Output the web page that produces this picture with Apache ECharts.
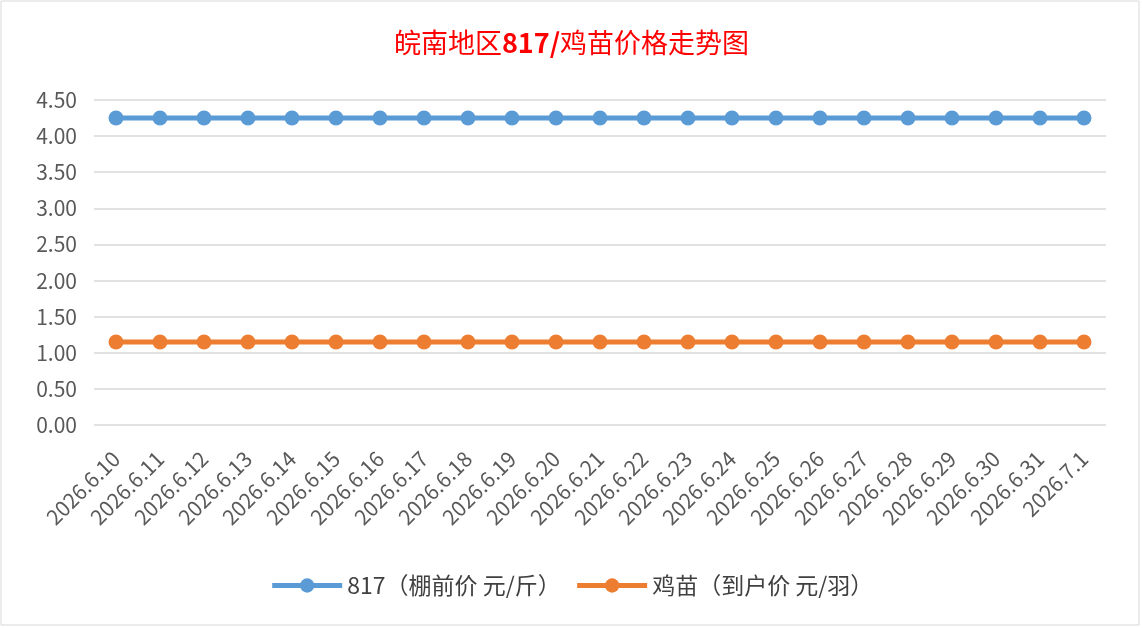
<!doctype html>
<html lang="zh">
<head>
<meta charset="utf-8">
<title>皖南地区817/鸡苗价格走势图</title>
<script src="https://cdn.jsdelivr.net/npm/echarts@6/dist/echarts.min.js"></script>
<style>
html,body{margin:0;padding:0;background:#fff;}
#chart{width:1143px;height:628px;}
</style>
</head>
<body>
<div id="chart"></div>
<script>
var dates = ['2026.6.10','2026.6.11','2026.6.12','2026.6.13','2026.6.14','2026.6.15','2026.6.16',
  '2026.6.17','2026.6.18','2026.6.19','2026.6.20','2026.6.21','2026.6.22','2026.6.23','2026.6.24',
  '2026.6.25','2026.6.26','2026.6.27','2026.6.28','2026.6.29','2026.6.30','2026.6.31','2026.7.1'];
var price817 = [4.25,4.25,4.25,4.25,4.25,4.25,4.25,4.25,4.25,4.25,4.25,4.25,
  4.25,4.25,4.25,4.25,4.25,4.25,4.25,4.25,4.25,4.25,4.25];
var priceChick = [1.15,1.15,1.15,1.15,1.15,1.15,1.15,1.15,1.15,1.15,1.15,1.15,
  1.15,1.15,1.15,1.15,1.15,1.15,1.15,1.15,1.15,1.15,1.15];
var seriesNames = ['817（棚前价 元/斤）','鸡苗（到户价 元/羽）'];

var font = '"Microsoft YaHei","Noto Sans CJK SC",sans-serif';
var myChart = echarts.init(document.getElementById('chart'));

function lineSeries(name, data, color) {
  return {
    name: name,
    type: 'line',
    data: data,
    symbol: 'circle',
    symbolSize: 15,
    lineStyle: {width: 5, color: color},
    itemStyle: {color: color},
    animation: false
  };
}

myChart.setOption({
  backgroundColor: '#fff',
  graphic: [{
    type: 'rect',
    shape: {x: 1, y: 1, width: 1138, height: 624},
    style: {fill: 'none', stroke: '#d9d9d9', lineWidth: 1},
    silent: true
  }],
  title: {
    text: '{n|皖南地区}{b|817/}{n|鸡苗价格走势图}',
    left: 'center',
    top: 24,
    textStyle: {
      rich: {
        n: {color: '#ff0000', fontSize: 27, fontFamily: font, fontWeight: 'normal'},
        b: {color: '#ff0000', fontSize: 27, fontFamily: font, fontWeight: 'bold'}
      }
    }
  },
  grid: {left: 94, right: 37, top: 100, bottom: 203},
  legend: {
    bottom: 26,
    left: 'center',
    itemWidth: 70,
    itemHeight: 18,
    itemGap: 14,
    lineStyle: {width: 5},
    textStyle: {color: '#404040', fontSize: 23, fontFamily: font},
    data: seriesNames
  },
  xAxis: {
    type: 'category',
    data: dates,
    boundaryGap: true,
    axisLine: {show: false},
    axisTick: {show: false},
    axisLabel: {rotate: 45, fontSize: 21, color: '#595959', fontFamily: font, interval: 0, margin: 30}
  },
  yAxis: {
    type: 'value',
    min: 0,
    max: 4.5,
    interval: 0.5,
    axisLabel: {fontSize: 21, color: '#595959', fontFamily: font, margin: 17,
      formatter: function (v) { return v.toFixed(2); }},
    splitLine: {lineStyle: {color: '#d9d9d9', width: 1.5}}
  },
  series: [
    lineSeries(seriesNames[0], price817, '#5b9bd5'),
    lineSeries(seriesNames[1], priceChick, '#ed7d31')
  ]
});
</script>
</body>
</html>
